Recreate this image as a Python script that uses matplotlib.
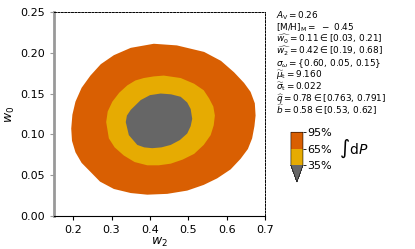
import numpy as np
import matplotlib
matplotlib.use("Agg")
import matplotlib.pyplot as plt
from matplotlib.colors import ListedColormap, BoundaryNorm
import matplotlib.cm as cm

# contour outlines (w2, w0)
outer_x = [0.410, 0.470, 0.541, 0.585, 0.619, 0.645, 0.662, 0.673, 0.675, 0.672, 0.666, 0.655,
           0.636, 0.610, 0.575, 0.540, 0.497, 0.445, 0.393, 0.350, 0.306, 0.270, 0.245, 0.222,
           0.206, 0.197, 0.195, 0.198, 0.206, 0.222, 0.245, 0.272, 0.306, 0.350]
outer_y = [0.211, 0.209, 0.201, 0.190, 0.176, 0.163, 0.152, 0.138, 0.123, 0.110, 0.095, 0.082,
           0.070, 0.057, 0.046, 0.038, 0.031, 0.027, 0.026, 0.028, 0.033, 0.042, 0.054, 0.065,
           0.078, 0.092, 0.107, 0.124, 0.140, 0.157, 0.172, 0.186, 0.197, 0.206]

mid_x = [0.436, 0.480, 0.515, 0.540, 0.554, 0.565, 0.569, 0.566, 0.558, 0.540, 0.515, 0.485,
         0.454, 0.423, 0.393, 0.360, 0.332, 0.308, 0.293, 0.286, 0.290, 0.302, 0.320, 0.341,
         0.362, 0.384, 0.410]
mid_y = [0.172, 0.169, 0.162, 0.154, 0.144, 0.134, 0.123, 0.111, 0.099, 0.087, 0.076, 0.069,
         0.064, 0.062, 0.062, 0.066, 0.074, 0.084, 0.095, 0.115, 0.128, 0.140, 0.151, 0.160,
         0.166, 0.169, 0.171]

inner_x = [0.428, 0.455, 0.480, 0.497, 0.506, 0.510, 0.506, 0.497, 0.478, 0.454, 0.430, 0.406,
           0.385, 0.367, 0.345, 0.337, 0.340, 0.350, 0.376, 0.400]
inner_y = [0.150, 0.149, 0.146, 0.139, 0.131, 0.119, 0.110, 0.101, 0.093, 0.087, 0.084, 0.083,
           0.084, 0.087, 0.099, 0.115, 0.123, 0.130, 0.142, 0.148]

levels = [0.35, 0.65, 0.95]
level_labels = ["35%", "65%", "95%"]
colors = ["#e6ab02", "#d95f02"]
under_color = "#666666"

info = [
    r"$A_{\rm V} = 0.26$",
    r"$[{\rm M/H}]_{\rm M} =\ -\ 0.45$",
    r"$\widehat{w_0} = 0.11 \in [0.03,\, 0.21]$",
    r"$\widehat{w_2} = 0.42 \in [0.19,\, 0.68]$",
    r"$\sigma_\omega = \{0.60,\, 0.05,\, 0.15\}$",
    r"$\widetilde{\mu}_{\rm t} = 9.160$",
    r"$\widetilde{\sigma}_{\rm t} = 0.022$",
    r"$\widehat{q} = 0.78 \in [0.763,\, 0.791]$",
    r"$\widehat{b} = 0.58 \in [0.53,\, 0.62]$",
]

fig = plt.figure(figsize=(4.15, 2.49), dpi=100)
ax = fig.add_axes([0.130, 0.133, 0.509, 0.819])

ax.fill(outer_x, outer_y, color=colors[1], lw=0)
ax.fill(mid_x, mid_y, color=colors[0], lw=0)
ax.fill(inner_x, inner_y, color=under_color, lw=0)

ax.set_xlim(0.15, 0.7)
ax.set_ylim(0, 0.25)
ax.set_xticks([0.2, 0.3, 0.4, 0.5, 0.6, 0.7])
ax.set_yticks([0.0, 0.05, 0.10, 0.15, 0.20, 0.25])
ax.set_xticklabels(["0.2", "0.3", "0.4", "0.5", "0.6", "0.7"])
ax.set_yticklabels(["0.00", "0.05", "0.10", "0.15", "0.20", "0.25"])
ax.tick_params(labelsize=8, length=3)
ax.tick_params(axis="y", color="#999999")
ax.set_xlabel(r"$w_2$", fontsize=9, labelpad=1)
ax.set_ylabel(r"$w_0$", fontsize=9, labelpad=2)

ax.spines["left"].set_color("#999999")
ax.spines["left"].set_linewidth(2)
ax.spines["bottom"].set_linewidth(0.8)
for s in ["top", "right"]:
    ax.spines[s].set_linestyle((0, (2, 1.5)))
    ax.spines[s].set_linewidth(0.7)

# info lines, one per row
for i, line in enumerate(info):
    ypx = 18.5 + i * 11.9
    fig.text(0.666, 1 - ypx / 249, line, fontsize=6.4, va="baseline", ha="left")

# colorbar
cmap = ListedColormap(colors)
cmap.set_under(under_color)
norm = BoundaryNorm(levels, cmap.N)
cax = fig.add_axes([0.701, 0.269, 0.029, 0.200])
sm = cm.ScalarMappable(norm=norm, cmap=cmap)
cb = fig.colorbar(sm, cax=cax, extend="min", extendfrac="auto", ticks=levels)
cb.ax.set_yticklabels(level_labels)
cb.ax.tick_params(labelsize=8, length=2, width=0.6, pad=1)
cb.outline.set_linewidth(0.4)
cb.set_label(r"$\int {\rm d}P$", rotation=0, fontsize=10, va="center", ha="left", labelpad=5)

fig.savefig("out.png", dpi=100)
